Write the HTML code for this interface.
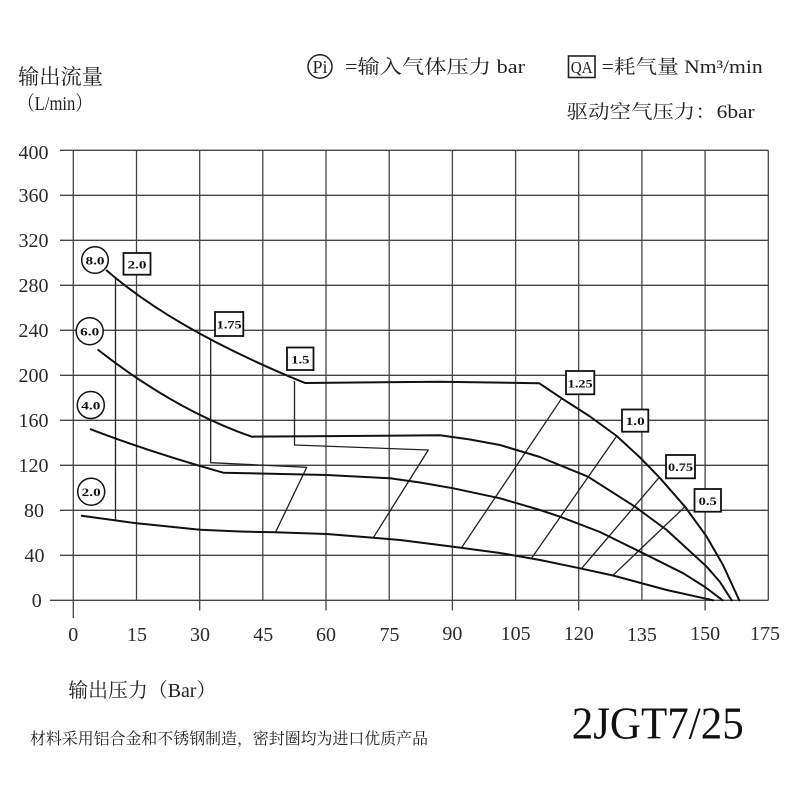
<!DOCTYPE html>
<html>
<head>
<meta charset="utf-8">
<style>
  html,body{margin:0;padding:0;background:#fff;}
  svg{display:block;}
  .t{font-family:"Liberation Serif","Noto Serif CJK SC","Noto Sans CJK SC",serif;fill:#222;}
  .n{font-family:"Liberation Serif",serif;fill:#2a2a2a;font-size:20px;}
  .lb{font-family:"Liberation Serif",serif;font-weight:bold;fill:#111;font-size:12px;}
</style>
</head>
<body>
<svg width="800" height="800" viewBox="0 0 800 800" xmlns="http://www.w3.org/2000/svg">
  <rect width="800" height="800" fill="#fff"/>

  <!-- Header texts -->
  <text class="t" x="18" y="84" font-size="21" textLength="85" lengthAdjust="spacingAndGlyphs">输出流量</text>
  <text class="t" x="18" y="110" font-size="20" textLength="74" lengthAdjust="spacingAndGlyphs">（L/min）</text>

  <ellipse cx="320" cy="66.5" rx="12" ry="11.7" fill="none" stroke="#222" stroke-width="1.5"/>
  <text class="t" x="320" y="73" font-size="18" text-anchor="middle">Pi</text>
  <text class="t" x="345" y="73" font-size="19" textLength="180" lengthAdjust="spacingAndGlyphs">=输入气体压力 bar</text>

  <rect x="568.5" y="56" width="26.5" height="21.5" fill="none" stroke="#222" stroke-width="1.6"/>
  <text class="t" x="581.7" y="73" font-size="17" text-anchor="middle" textLength="22" lengthAdjust="spacingAndGlyphs">QA</text>
  <text class="t" x="601.7" y="73" font-size="19" textLength="161" lengthAdjust="spacingAndGlyphs">=耗气量 Nm³/min</text>

  <text class="t" x="566.7" y="118" font-size="19" textLength="188" lengthAdjust="spacingAndGlyphs">驱动空气压力：6bar</text>

  <!-- Grid -->
  <g stroke="#444" stroke-width="1.3" fill="none">
    <line x1="60" y1="150.3" x2="768.3" y2="150.3"/>
    <line x1="60" y1="195.3" x2="768.3" y2="195.3"/>
    <line x1="60" y1="240.3" x2="768.3" y2="240.3"/>
    <line x1="60" y1="285.3" x2="768.3" y2="285.3"/>
    <line x1="60" y1="330.3" x2="768.3" y2="330.3"/>
    <line x1="60" y1="375.3" x2="768.3" y2="375.3"/>
    <line x1="60" y1="420.3" x2="768.3" y2="420.3"/>
    <line x1="60" y1="465.3" x2="768.3" y2="465.3"/>
    <line x1="60" y1="510.3" x2="768.3" y2="510.3"/>
    <line x1="60" y1="555.3" x2="768.3" y2="555.3"/>
    <line x1="50" y1="600.3" x2="768.3" y2="600.3"/>

    <line x1="73.3" y1="150.3" x2="73.3" y2="618"/>
    <line x1="136.5" y1="150.3" x2="136.5" y2="600.3"/>
    <line x1="199.7" y1="150.3" x2="199.7" y2="610.5"/>
    <line x1="262.8" y1="150.3" x2="262.8" y2="600.3"/>
    <line x1="326.0" y1="150.3" x2="326.0" y2="610.5"/>
    <line x1="389.2" y1="150.3" x2="389.2" y2="600.3"/>
    <line x1="452.4" y1="150.3" x2="452.4" y2="610.5"/>
    <line x1="515.6" y1="150.3" x2="515.6" y2="600.3"/>
    <line x1="578.7" y1="150.3" x2="578.7" y2="610.5"/>
    <line x1="641.9" y1="150.3" x2="641.9" y2="600.3"/>
    <line x1="705.1" y1="150.3" x2="705.1" y2="610.5"/>
    <line x1="768.3" y1="150.3" x2="768.3" y2="600.3"/>
  </g>

  <!-- Y labels -->
  <g class="n" text-anchor="middle">
    <text x="33.5" y="159">400</text>
    <text x="33.5" y="202">360</text>
    <text x="33.5" y="247">320</text>
    <text x="33.5" y="292">280</text>
    <text x="33.5" y="337">240</text>
    <text x="33.5" y="382">200</text>
    <text x="33.5" y="427">160</text>
    <text x="33.5" y="472">120</text>
    <text x="34" y="517">80</text>
    <text x="34.5" y="562">40</text>
    <text x="36.7" y="607">0</text>
  </g>

  <!-- X labels -->
  <g class="n" text-anchor="middle">
    <text x="73.3" y="641">0</text>
    <text x="137" y="641">15</text>
    <text x="200" y="641">30</text>
    <text x="263.3" y="641">45</text>
    <text x="326" y="641">60</text>
    <text x="389.5" y="641">75</text>
    <text x="452.4" y="640">90</text>
    <text x="515.6" y="640">105</text>
    <text x="578.7" y="640">120</text>
    <text x="641.9" y="641">135</text>
    <text x="705.1" y="640">150</text>
    <text x="765" y="640">175</text>
  </g>

  <!-- Thin QA lines -->
  <g stroke="#222" stroke-width="1.3" fill="none" stroke-linejoin="round">
    <polyline points="115.5,277 115.5,520.5"/>
    <polyline points="210.7,340 210.7,462.7 306.7,467.3 275.5,532.3"/>
    <polyline points="294.5,381 294.5,445 428.3,450 373.3,537.7"/>
    <polyline points="561.7,398.3 461.7,547.5"/>
    <polyline points="616.7,436 531.7,558"/>
    <polyline points="659.3,477.3 581.7,568.3"/>
    <polyline points="685,506.7 613.3,575"/>
  </g>

  <!-- Main curves -->
  <g stroke="#111" stroke-width="2" fill="none" stroke-linejoin="round" stroke-linecap="round">
    <!-- 8.0 -->
    <path d="M106.7,270.5 Q175,330 305,383 L440,381.7 L539.3,383.3 L561.7,398.3 L590,416.5 L616.7,436 L640,457.5 L659.3,477.3 L685,506.7 L706.7,536.7 L723,565 L739.3,600.3"/>
    <!-- 6.0 -->
    <path d="M98.3,350 Q175,410 251.7,436.7 L440,435.3 L470,439.5 L500,445 L540,457 L588,476.7 L635,506.7 L666.7,530 L706.7,566.7 L720,582 L731.7,600.3"/>
    <!-- 4.0 -->
    <path d="M90.7,429.3 Q150,452 223.3,472.7 L326.7,475 L390,478.3 L420,482.5 L453.3,488.3 L500,498.3 L540,510 L560,516.7 L600,532 L640,551.7 L683.3,573.3 L705,587 L722.7,600.3"/>
    <!-- 2.0 -->
    <path d="M81.7,515.7 L136.7,523.3 L200,529.8 L240,531.5 L275,532.3 L326.7,534 L373.3,537.7 L400,540 L453.3,546.7 L500,553 L540,560 L580,568.3 L613,575.5 L666.7,590 L713.3,600.3"/>
  </g>

  <!-- Pi circles -->
  <g fill="#fff" stroke="#111" stroke-width="1.5">
    <circle cx="95" cy="260" r="13.3"/>
    <circle cx="89.7" cy="331.2" r="13.5"/>
    <circle cx="90.8" cy="405" r="13.5"/>
    <circle cx="91.2" cy="491.7" r="13.5"/>
  </g>
  <g class="lb" text-anchor="middle">
    <text x="95" y="264.5" textLength="19" lengthAdjust="spacingAndGlyphs">8.0</text>
    <text x="89.7" y="335.7" textLength="19" lengthAdjust="spacingAndGlyphs">6.0</text>
    <text x="90.8" y="409.5" textLength="19" lengthAdjust="spacingAndGlyphs">4.0</text>
    <text x="91.2" y="496.2" textLength="19" lengthAdjust="spacingAndGlyphs">2.0</text>
  </g>

  <!-- QA boxes -->
  <g fill="#fff" stroke="#111" stroke-width="1.8">
    <rect x="123.5" y="253" width="27" height="21.7"/>
    <rect x="215" y="312" width="28.3" height="24"/>
    <rect x="287" y="347.5" width="26.5" height="22.5"/>
    <rect x="566" y="371" width="28.3" height="23.3"/>
    <rect x="622" y="409.5" width="26.3" height="22.2"/>
    <rect x="666" y="455" width="29" height="23.3"/>
    <rect x="694.5" y="489" width="26.5" height="22.7"/>
  </g>
  <g class="lb" text-anchor="middle">
    <text x="137" y="268.5" textLength="19" lengthAdjust="spacingAndGlyphs">2.0</text>
    <text x="229.2" y="328.5" textLength="25" lengthAdjust="spacingAndGlyphs">1.75</text>
    <text x="300.3" y="363.3" textLength="18" lengthAdjust="spacingAndGlyphs">1.5</text>
    <text x="580.2" y="387.3" textLength="25" lengthAdjust="spacingAndGlyphs">1.25</text>
    <text x="635.2" y="425" textLength="19" lengthAdjust="spacingAndGlyphs">1.0</text>
    <text x="680.5" y="471" textLength="25" lengthAdjust="spacingAndGlyphs">0.75</text>
    <text x="707.7" y="505" textLength="18" lengthAdjust="spacingAndGlyphs">0.5</text>
  </g>

  <!-- Bottom texts -->
  <text class="t" x="68.3" y="697" font-size="20" textLength="148" lengthAdjust="spacingAndGlyphs">输出压力（Bar）</text>
  <text class="t" x="30" y="744" font-size="16" textLength="398" lengthAdjust="spacingAndGlyphs">材料采用铝合金和不锈钢制造，密封圈均为进口优质产品</text>
  <text x="571.7" y="738.3" font-family="'Liberation Serif', serif" font-size="46" fill="#111" textLength="172" lengthAdjust="spacingAndGlyphs">2JGT7/25</text>
</svg>
</body>
</html>
